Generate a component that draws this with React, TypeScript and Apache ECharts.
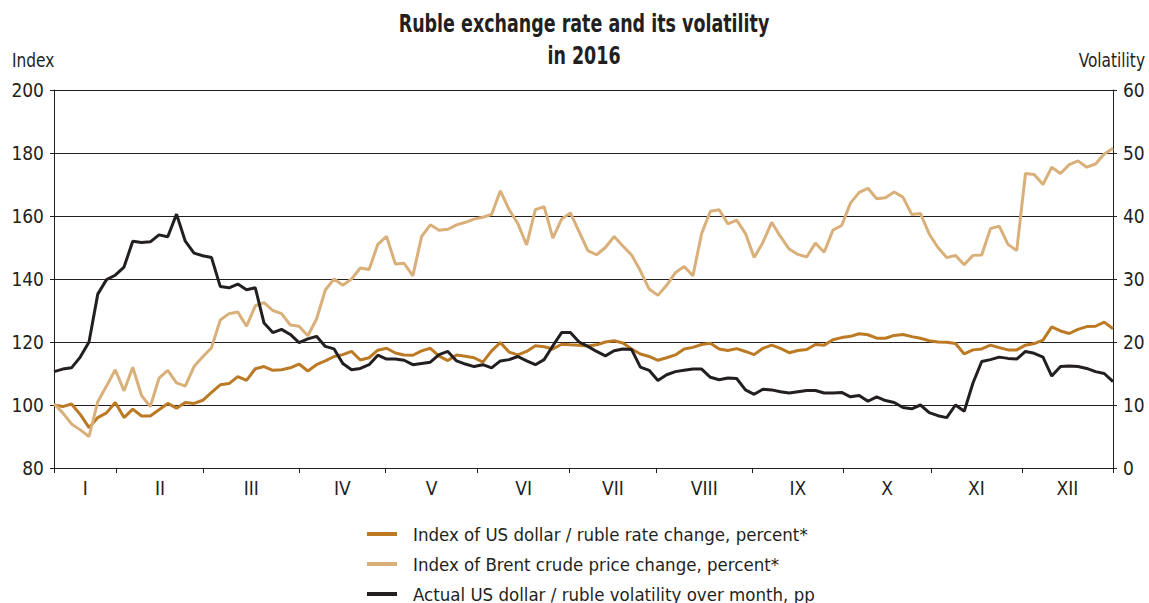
import React, { useEffect, useRef } from "react";
import * as echarts from "echarts";

// Trading-day samples (about one point per two trading days), 2016
const usdIndex = [
  100, 99.5, 100.3, 97, 92.8, 96, 97.5, 100.8, 96, 98.7,
  96.5, 96.5, 98.5, 100.5, 99, 100.8, 100.5, 101.5, 104, 106.4,
  106.8, 109, 107.8, 111.5, 112.2, 111, 111.2, 111.8, 113, 110.8,
  112.8, 114, 115.4, 116, 117, 114.3, 115, 117.4, 118, 116.5,
  115.9, 115.8, 117.2, 118, 115.5, 114.1, 115.9, 115.5, 115, 113.6,
  117.2, 119.8, 116.8, 115.9, 117, 118.8, 118.5, 117.8, 119.3, 119.1,
  119, 118.7, 119.1, 120, 120.4, 119.7, 117.8, 116.2, 115.4, 114.2,
  115, 115.9, 117.8, 118.3, 119.2, 119.6, 117.8, 117.3, 117.9, 117,
  116, 118, 119, 118, 116.6, 117.3, 117.6, 119.2, 119, 120.7,
  121.4, 121.8, 122.6, 122.3, 121.2, 121.2, 122.1, 122.4, 121.7, 121.2,
  120.4, 120, 119.9, 119.5, 116.2, 117.5, 117.8, 119, 118.2, 117.5,
  117.5, 119, 119.5, 120.6, 124.8, 123.5, 122.7, 124, 124.9, 125, 126.3, 124.2,
];

const brentIndex = [
  100.4, 97.5, 94, 92.1, 90, 101, 106, 111.2, 104.5, 112,
  103, 99.5, 108.5, 111, 107, 106, 112.2, 115.3, 118.2, 127,
  129, 129.5, 125, 131.5, 132.5, 130, 129, 125.4, 125, 122,
  127.3, 136.5, 140, 138, 140, 143.5, 143, 151, 153.5, 144.8,
  145, 141, 153.5, 157.2, 155.5, 155.8, 157.2, 158, 159, 159.6,
  160.5, 168, 162, 157.6, 150.8, 162, 163, 153, 159, 161,
  155, 149, 147.7, 150, 153.5, 150.5, 147.6, 142.6, 136.8, 134.8,
  138, 142, 144, 141, 154.5, 161.5, 162, 157.5, 158.7, 154.5,
  146.8, 151.6, 158, 153.5, 149.5, 147.8, 147, 151.4, 148.5, 155.5,
  157, 164.1, 167.5, 168.8, 165.5, 165.8, 167.6, 166, 160.5, 160.8,
  154.3, 150, 146.8, 147.5, 144.5, 147.5, 147.6, 156, 156.8, 151,
  149, 173.5, 173.2, 170, 175.5, 173.5, 176.3, 177.5, 175.5, 176.5, 179.7, 181.5,
];

const volatility = [
  15.3, 15.7, 15.9, 17.6, 20, 27.6, 29.9, 30.6, 31.9, 36,
  35.8, 35.9, 37, 36.7, 40.3, 36, 34.1, 33.7, 33.4, 28.8,
  28.6, 29.2, 28.3, 28.6, 23, 21.5, 22, 21.2, 19.9, 20.5,
  20.9, 19.3, 18.9, 16.6, 15.6, 15.8, 16.4, 17.9, 17.3, 17.3,
  17.1, 16.4, 16.6, 16.8, 18, 18.5, 17, 16.5, 16.1, 16.4,
  15.9, 17, 17.2, 17.7, 17, 16.4, 17.2, 19.4, 21.5, 21.5,
  20, 19.3, 18.5, 17.8, 18.6, 18.9, 18.8, 16, 15.5, 13.9,
  14.8, 15.3, 15.5, 15.7, 15.7, 14.4, 14, 14.3, 14.2, 12.4,
  11.7, 12.5, 12.4, 12.1, 11.9, 12.1, 12.3, 12.3, 11.9, 11.9,
  12, 11.3, 11.5, 10.6, 11.3, 10.7, 10.4, 9.6, 9.4, 10,
  8.8, 8.3, 8, 10, 9, 13.5, 16.9, 17.2, 17.6, 17.4,
  17.3, 18.5, 18.2, 17.6, 14.6, 16.1, 16.2, 16.1, 15.8, 15.3, 15, 13.7,
];

// Month boundaries expressed in sample index units
const monthStarts = [0, 7.13, 17.1, 28, 37.9, 48.4, 58.9, 68.8, 79.8, 90.2, 100.2, 110.6, 121];
const monthLabels = ["I", "II", "III", "IV", "V", "VI", "VII", "VIII", "IX", "X", "XI", "XII"];

const leftTicks = { min: 80, max: 200, interval: 20 };
const rightTicks = { min: 0, max: 60, interval: 10 };

const seriesNames = [
  "Index of US dollar / ruble rate change, percent*",
  "Index of Brent crude price change, percent*",
  "Actual US dollar / ruble volatility over month, pp",
];
const seriesColors = ["#bb7a23", "#dab07a", "#231f20"];

const FONT = "'DejaVu Sans Condensed', 'Liberation Sans Narrow', 'Arial Narrow', sans-serif";
const INK = "#231f20";

export default function App() {
  const ref = useRef<HTMLDivElement>(null);

  useEffect(() => {
    if (!ref.current) return;
    const chart = echarts.init(ref.current, undefined, { renderer: "svg" });
    const monthMids = monthLabels.map((_, k) => (monthStarts[k] + monthStarts[k + 1]) / 2);
    const lastIndex = usdIndex.length - 1;
    const toPairs = (arr: number[]) => arr.map((v, i) => [i, v]);
    const monthName = (v: number) => {
      const k = monthMids.findIndex((m) => Math.abs(m - Number(v)) < 1e-6);
      return k >= 0 ? monthLabels[k] : "";
    };

    chart.setOption({
      animation: false,
      textStyle: { fontFamily: FONT },
      grid: { left: 54, right: 36, top: 90, height: 378 },
      graphic: [
        {
          type: "text",
          x: 584,
          y: 24,
          scaleX: 0.81,
          style: {
            text: "Ruble exchange rate and its volatility",
            font: `bold 24px ${FONT}`,
            fill: INK,
            align: "center",
            verticalAlign: "middle",
          },
        },
        {
          type: "text",
          x: 584,
          y: 56,
          scaleX: 0.81,
          style: {
            text: "in 2016",
            font: `bold 24px ${FONT}`,
            fill: INK,
            align: "center",
            verticalAlign: "middle",
          },
        },
        {
          type: "text",
          x: 12,
          y: 60,
          scaleX: 0.9,
          style: { text: "Index", font: `19px ${FONT}`, fill: INK, align: "left", verticalAlign: "middle" },
        },
        {
          type: "text",
          x: 1145,
          y: 60,
          scaleX: 0.9,
          style: { text: "Volatility", font: `19px ${FONT}`, fill: INK, align: "right", verticalAlign: "middle" },
        },
      ],
      legend: {
        orient: "vertical",
        left: 367,
        top: 523,
        padding: 0,
        itemWidth: 30,
        itemHeight: 4,
        itemGap: 8,
        icon: "rect",
        data: seriesNames,
        textStyle: {
          fontFamily: FONT,
          fontSize: 18.5,
          color: INK,
          lineHeight: 22,
          padding: [0, 0, 0, 11],
        },
      },
      xAxis: {
        type: "value",
        min: 0,
        max: lastIndex,
        splitLine: { show: false },
        axisLine: { show: true, lineStyle: { color: INK, width: 1 } },
        axisTick: {
          show: true,
          inside: false,
          length: 5,
          customValues: monthStarts,
          lineStyle: { color: INK },
        },
        axisLabel: {
          show: true,
          customValues: monthMids,
          formatter: (v: number) => monthName(v),
          fontFamily: FONT,
          fontSize: 19,
          color: INK,
          margin: 10,
          hideOverlap: false,
        },
      },
      yAxis: [
        {
          type: "value",
          ...leftTicks,
          axisLine: { show: true, lineStyle: { color: INK, width: 1 } },
          axisTick: { show: true, inside: false, length: 4, lineStyle: { color: INK } },
          axisLabel: { fontFamily: FONT, fontSize: 19, color: INK, margin: 10 },
          splitLine: { show: true, lineStyle: { color: INK, width: 1 } },
        },
        {
          type: "value",
          ...rightTicks,
          position: "right",
          axisLine: { show: true, lineStyle: { color: INK, width: 1 } },
          axisTick: { show: true, inside: false, length: 4, lineStyle: { color: INK } },
          axisLabel: { fontFamily: FONT, fontSize: 19, color: INK, margin: 10 },
          splitLine: { show: false },
        },
      ],
      series: [
        {
          name: seriesNames[0],
          type: "line",
          yAxisIndex: 0,
          data: toPairs(usdIndex),
          showSymbol: false,
          color: seriesColors[0],
          lineStyle: { width: 3, color: seriesColors[0] },
        },
        {
          name: seriesNames[1],
          type: "line",
          yAxisIndex: 0,
          data: toPairs(brentIndex),
          showSymbol: false,
          color: seriesColors[1],
          lineStyle: { width: 3, color: seriesColors[1] },
        },
        {
          name: seriesNames[2],
          type: "line",
          yAxisIndex: 1,
          data: toPairs(volatility),
          showSymbol: false,
          color: seriesColors[2],
          lineStyle: { width: 3, color: seriesColors[2] },
        },
      ],
    });

    return () => chart.dispose();
  }, []);

  return (
    <div style={{ position: "absolute", left: 0, top: 0, width: 1149, height: 603, overflow: "hidden" }}>
      <div ref={ref} style={{ width: 1149, height: 630 }} />
    </div>
  );
}
